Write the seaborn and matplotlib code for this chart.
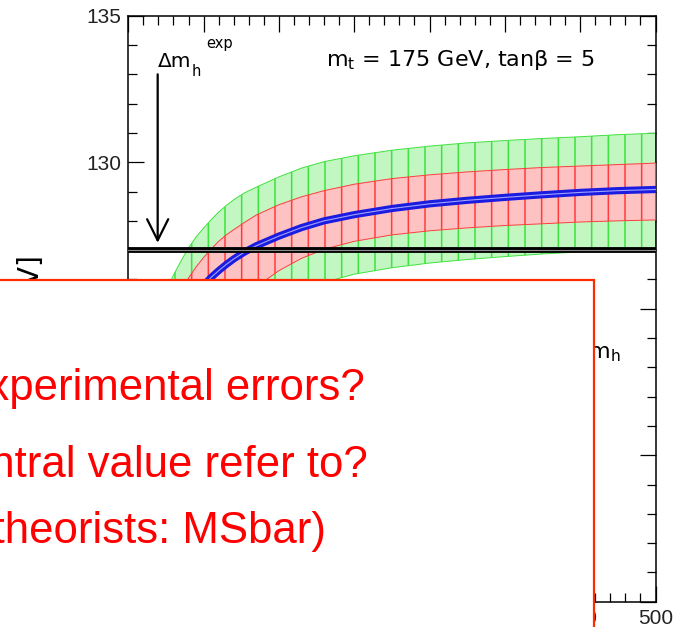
import matplotlib
matplotlib.use("Agg")
import matplotlib.pyplot as plt
from matplotlib.patches import Rectangle
from matplotlib.ticker import MultipleLocator
import seaborn as sns

# M_A grid [GeV] and light Higgs mass predictions [GeV]
M_A = [150, 160, 170, 180, 185, 190, 195, 200, 205, 210, 215, 220, 227, 235,
       250, 265, 280, 300, 325, 350, 375, 400, 425, 450, 475, 500]
mh_central = [121.1, 122.4, 123.4, 124.3, 124.72, 125.1, 125.47, 125.8,
              126.07, 126.3, 126.51, 126.7, 126.93, 127.15, 127.48, 127.77,
              128.0, 128.21, 128.42, 128.58, 128.7, 128.8, 128.89, 128.97,
              129.03, 129.07]
# inner band (red)
mh_red_hi = [121.9, 123.1, 124.1, 125.1, 125.6, 126.05, 126.43, 126.75,
             127.04, 127.3, 127.52, 127.7, 127.94, 128.2, 128.55, 128.82,
             129.03, 129.25, 129.44, 129.57, 129.67, 129.75, 129.82, 129.87,
             129.92, 129.97]
mh_red_lo = [119.1, 120.4, 121.5, 122.5, 122.97, 123.4, 123.72, 124.0, 124.3,
             124.6, 124.9, 125.15, 125.45, 125.75, 126.3, 126.72, 127.03,
             127.3, 127.52, 127.66, 127.76, 127.84, 127.9, 127.96, 128.0,
             128.03]
# outer band (green)
mh_green_hi = [122.5, 123.9, 125.1, 126.15, 126.63, 127.08, 127.45, 127.75,
               128.04, 128.3, 128.52, 128.72, 128.95, 129.15, 129.5, 129.8,
               130.02, 130.22, 130.41, 130.55, 130.66, 130.74, 130.81,
               130.87, 130.94, 130.99]
mh_green_lo = [117.0, 118.3, 119.4, 120.4, 120.87, 121.3, 121.72, 122.1,
               122.45, 122.8, 123.1, 123.4, 123.8, 124.2, 124.9, 125.45,
               125.9, 126.18, 126.4, 126.56, 126.68, 126.78, 126.87, 126.94,
               127.0, 127.04]

mh_exp = 127.0
arrow_x = 169.5
arrow_from, arrow_to = 133.0, 127.25

x_limits = (150, 500)
y_limits = (115, 135)

question_lines = ["experimental errors?",
                  "central value refer to?",
                  "(theorists: MSbar)"]

sns.set_theme(style="ticks")
plt.rcParams["font.family"] = ["Liberation Sans", "DejaVu Sans"]
plt.rcParams["mathtext.fontset"] = "dejavusans"
plt.rcParams["hatch.linewidth"] = 1.1

W, H = 683, 627
fig = plt.figure(figsize=(W / 100, H / 100), dpi=100)
fig.patch.set_facecolor("white")
ax = fig.add_axes([128.3 / W, 25.2 / H, 527.2 / W, 586.1 / H])
ax.set_facecolor("white")

# uncertainty bands
ax.fill_between(M_A, mh_green_lo, mh_green_hi, facecolor="#c2f7c2",
                edgecolor="#3fe23f", hatch="|", linewidth=0.7, zorder=2)
ax.fill_between(M_A, mh_red_lo, mh_red_hi, facecolor="#ffc2c2",
                edgecolor="#ff3c3c", hatch="|", linewidth=0.7, zorder=3)

# central prediction
sns.lineplot(x=M_A, y=mh_central, ax=ax, color="#1c1ce0", linewidth=5.2,
             zorder=4)
sns.lineplot(x=M_A, y=mh_central, ax=ax, color="#9ea4ff", linewidth=0.8,
             zorder=5)

# experimental value
ax.axhline(mh_exp, color="black", linewidth=4.2, zorder=6)
ax.axhline(mh_exp, color="#8c8c8c", linewidth=0.8, zorder=7)

ax.annotate("", xy=(arrow_x, arrow_to), xytext=(arrow_x, arrow_from),
            arrowprops=dict(arrowstyle="->", color="black", lw=1.6,
                            mutation_scale=38, shrinkA=0, shrinkB=0),
            zorder=8)
dv = ["DejaVu Sans"]
# Δm_h^exp, with the sub- and superscript set side by side
ax.text(arrow_x, 133.25, "Δm", fontsize=14.5, family=dv,
        ha="left", va="baseline", color="black")
ax.text(191.9, 132.95, "h", fontsize=10.5, family=dv,
        ha="left", va="baseline", color="black")
ax.text(201.9, 133.9, "exp", fontsize=10.5, family=dv,
        ha="left", va="baseline", color="black")
ax.text(281.5, 133.28, r"$\mathrm{m_t}$ = 175 GeV, tanβ = 5", fontsize=16,
        family=dv, ha="left", va="baseline", color="black")
ax.text(477.0, 123.32, r"$\mathrm{\Delta m_h}$", fontsize=16,
        family=dv, ha="right", va="baseline", color="black")

ax.set_xlim(*x_limits)
ax.set_ylim(*y_limits)
ax.xaxis.set_major_locator(MultipleLocator(50))
ax.xaxis.set_minor_locator(MultipleLocator(10))
ax.yaxis.set_major_locator(MultipleLocator(5))
ax.yaxis.set_minor_locator(MultipleLocator(1))
ax.tick_params(which="both", direction="in", top=True, right=True,
               color="black", width=0.9, labelsize=15, labelcolor="#222222")
ax.tick_params(which="major", length=11.5, pad=5)
ax.tick_params(which="minor", length=6.5)
for sp in ax.spines.values():
    sp.set_color("black")
    sp.set_linewidth(1.1)
ax.set_xlabel("")
ax.set_ylabel("")

# vertical axis title
fig.text(31 / W, 1 - 256 / H, r"$\mathrm{m_h}$ [GeV]", fontsize=20,
         family=dv, rotation=90, ha="center", va="top", color="black")

# overlaid question box
box = Rectangle((-0.05, -0.1), 594 / W + 0.05, (H - 280) / H + 0.1,
                transform=fig.transFigure, facecolor="white",
                edgecolor="#ff2a00", linewidth=1.6, zorder=10)
fig.add_artist(box)
for s, xr, yb in zip(question_lines, [365, 368, 326], [400, 477, 543]):
    fig.text(xr / W, 1 - yb / H, s, fontsize=31.5, color="#ff0000",
             ha="right", va="baseline", zorder=11)

fig.savefig("out.png", dpi=100)
